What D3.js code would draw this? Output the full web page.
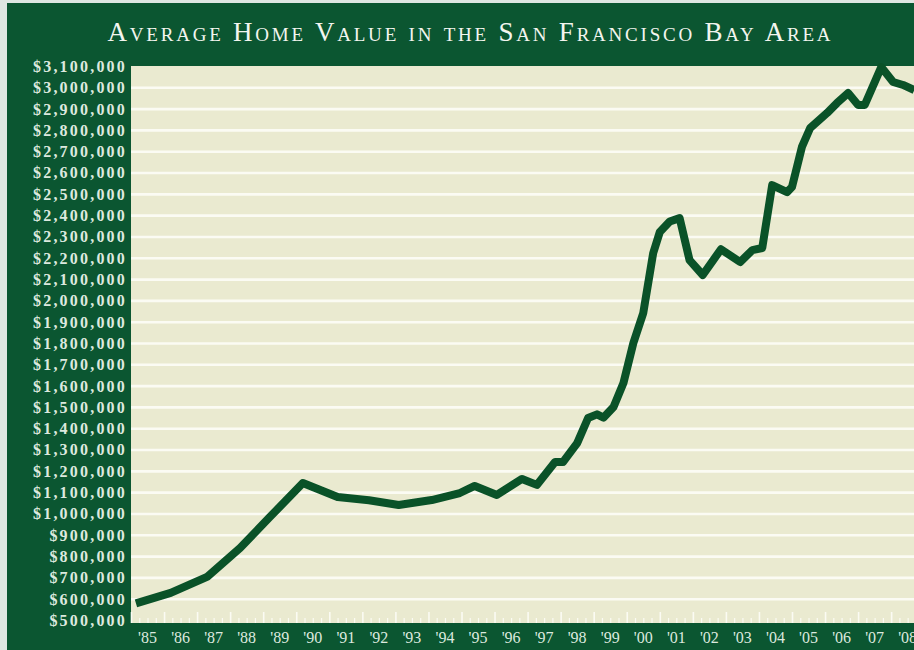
<!DOCTYPE html>
<html>
<head>
<meta charset="utf-8">
<script src="https://cdn.jsdelivr.net/npm/d3@7"></script>
<style>
  html, body { margin: 0; padding: 0; background: #dfe7e2; }
  svg { display: block; }
</style>
</head>
<body>
<svg id="chart" width="914" height="650"></svg>
<script>
// ---- Data ----
const chartTitle = "Average Home Value in the San Francisco Bay Area";
const dates = [1985.15, 1986.2, 1987.3, 1988.3, 1989.2, 1990.2, 1991.25, 1992.2, 1993.1, 1994.1,
  1994.95, 1995.4, 1996.07, 1996.83, 1997.28, 1997.83, 1998.07, 1998.5, 1998.83, 1999.1,
  1999.3, 1999.6, 1999.9, 2000.2, 2000.5, 2000.8, 2001.0, 2001.3, 2001.6, 2001.9,
  2002.3, 2002.85, 2003.43, 2003.8, 2004.1, 2004.4, 2004.85, 2005.0, 2005.3, 2005.55,
  2006.06, 2006.36, 2006.7, 2007.0, 2007.2, 2007.7, 2008.06, 2008.36, 2008.7];
const values = [578000, 627000, 702000, 838000, 983000, 1143000, 1077000, 1062000, 1040000, 1063000,
  1096000, 1129000, 1087000, 1162000, 1134000, 1241000, 1241000, 1330000, 1448000, 1465000,
  1450000, 1500000, 1612000, 1800000, 1941000, 2222000, 2321000, 2370000, 2386000, 2189000,
  2119000, 2240000, 2180000, 2236000, 2246000, 2541000, 2508000, 2532000, 2720000, 2809000,
  2879000, 2926000, 2973000, 2917000, 2917000, 3095000, 3025000, 3011000, 2987000];
const yTickValues = d3.range(500000, 3100001, 100000);
const yearTicks = d3.range(1985, 2009);
const yearLabels = yearTicks.map(y => "'" + String(y).slice(2));

// ---- Layout ----
const svg = d3.select("#chart");
const W = 914, H = 650;
const plot = { left: 131, top: 66, right: 914, bottom: 623 };
const darkGreen = "#0b5631";
const cream = "#eaead0";
const lineGreen = "#0a5228";
const labelColor = "#dde9df";

const x = d3.scaleLinear().domain([1985, 2009]).range([131, 131 + 24 * 33.05]);
const y = d3.scaleLinear().domain([500000, 3100000]).range([620, 66]);

// Background panel
svg.append("rect").attr("x", 7).attr("y", 3).attr("width", W - 7).attr("height", H - 3).attr("fill", darkGreen);

// Title
svg.append("text")
  .attr("x", 469).attr("y", 41)
  .attr("text-anchor", "middle")
  .attr("fill", "#f3f5ef")
  .style("font-family", "'Liberation Serif', 'DejaVu Serif', serif")
  .style("font-size", "27px")
  .style("font-variant", "small-caps")
  .attr("textLength", 723)
  .attr("lengthAdjust", "spacing")
  .text(chartTitle);

// Plot background
svg.append("rect")
  .attr("x", plot.left).attr("y", plot.top)
  .attr("width", plot.right - plot.left).attr("height", plot.bottom - plot.top)
  .attr("fill", cream);

// Gridlines
const grid = svg.append("g")
  .attr("transform", `translate(${plot.left},0)`)
  .call(d3.axisRight(y).tickValues(yTickValues.slice(1, -1)).tickSize(plot.right - plot.left).tickFormat(""));
grid.select(".domain").remove();
grid.selectAll("line").attr("stroke", "#fbfbf3").attr("stroke-width", 2.6);

// Y axis labels
const yAxis = svg.append("g")
  .attr("transform", `translate(127,0)`)
  .call(d3.axisLeft(y).tickValues(yTickValues).tickSize(0).tickPadding(0)
    .tickFormat(d => "$" + d3.format(",")(d)));
yAxis.select(".domain").remove();
yAxis.selectAll("text")
  .attr("fill", labelColor)
  .attr("dy", "0.34em")
  .style("font-family", "'Liberation Serif', 'DejaVu Serif', serif")
  .style("font-size", "16px")
  .style("font-weight", "bold")
  .style("letter-spacing", "2.2px");

// X ticks (major years, minor quarters)
svg.append("clipPath").attr("id", "pclip")
  .append("rect").attr("x", plot.left).attr("y", 0).attr("width", plot.right - plot.left).attr("height", H);

const xMajor = svg.append("g")
  .attr("transform", `translate(0,${plot.bottom})`)
  .call(d3.axisTop(x).tickValues(yearTicks.concat([2009])).tickSize(11).tickFormat(""));
xMajor.select(".domain").remove();
xMajor.selectAll("line").attr("stroke", "#fbfbf3").attr("stroke-width", 1.6);

const minorVals = [];
yearTicks.forEach(yr => [0.25, 0.5, 0.75].forEach(f => minorVals.push(yr + f)));
const xMinor = svg.append("g")
  .attr("transform", `translate(0,${plot.bottom})`)
  .call(d3.axisTop(x).tickValues(minorVals).tickSize(5).tickFormat(""));
xMinor.select(".domain").remove();
xMinor.selectAll("line").attr("stroke", "#fbfbf3").attr("stroke-width", 1.2);

// X labels
svg.append("g").selectAll("text")
  .data(yearTicks)
  .join("text")
  .attr("x", d => x(d + 0.5))
  .attr("y", 643)
  .attr("text-anchor", "middle")
  .attr("fill", labelColor)
  .style("font-family", "'Liberation Serif', 'DejaVu Serif', serif")
  .style("font-size", "16px")
  .text((d, i) => yearLabels[i]);

// Line
const pts = dates.map((d, i) => [d, values[i]]);
svg.append("path")
  .datum(pts)
  .attr("clip-path", "url(#pclip)")
  .attr("fill", "none")
  .attr("stroke", lineGreen)
  .attr("stroke-width", 8)
  .attr("stroke-linejoin", "round")
  .attr("stroke-linecap", "butt")
  .attr("d", d3.line().x(p => x(p[0])).y(p => y(p[1])));
</script>
</body>
</html>
